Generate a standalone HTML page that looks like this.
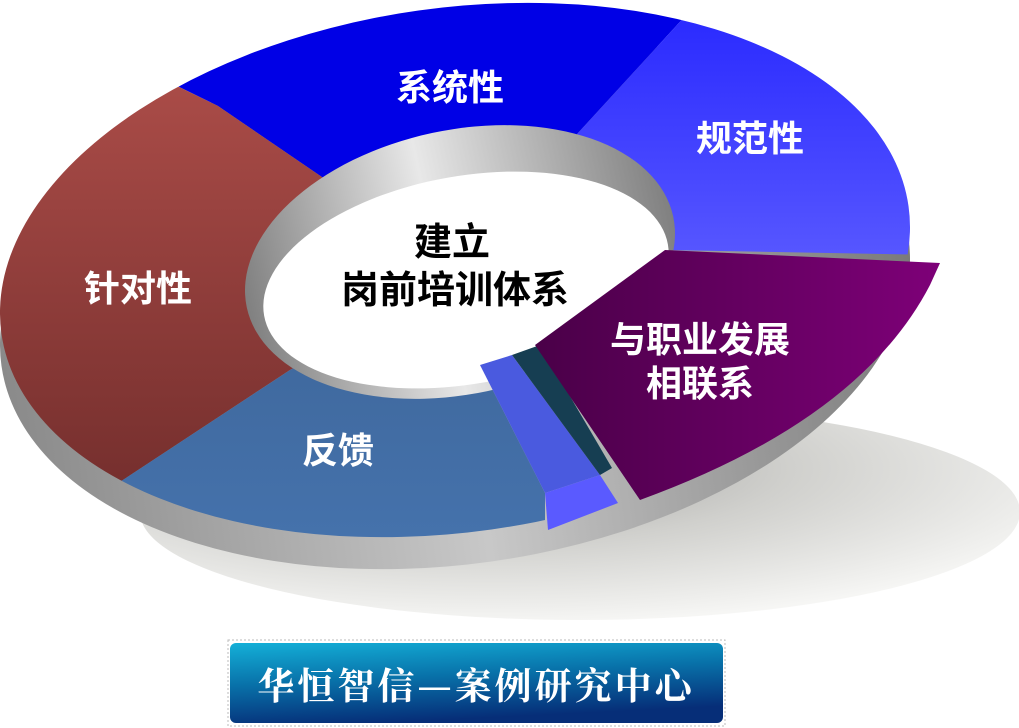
<!DOCTYPE html>
<html><head><meta charset="utf-8"><style>
html,body{margin:0;padding:0;background:#fff;width:1019px;height:728px;overflow:hidden}
svg{display:block}
</style></head><body>
<svg width="1019" height="728" viewBox="0 0 1019 728" xmlns="http://www.w3.org/2000/svg">
<defs>
<radialGradient id="sh" cx="0.4" cy="0.3" r="0.75">
<stop offset="0" stop-color="#8a8a88"/><stop offset="0.45" stop-color="#c4c4c0"/><stop offset="1" stop-color="#f8f8f6"/></radialGradient>
<linearGradient id="side" x1="0" x2="1"><stop offset="0" stop-color="#8a8a8a"/><stop offset="0.5" stop-color="#c8c8c8"/><stop offset="1" stop-color="#7a7a7a"/></linearGradient>
<linearGradient id="rim" x1="0" x2="1"><stop offset="0" stop-color="#808080"/><stop offset="0.45" stop-color="#e8e8e8"/><stop offset="1" stop-color="#808080"/></linearGradient>
<linearGradient id="red" x1="0" y1="0" x2="0" y2="1"><stop offset="0" stop-color="#bb5550"/><stop offset="1" stop-color="#5a2020"/></linearGradient>
<linearGradient id="fb" x1="0" y1="0" x2="0" y2="1"><stop offset="0" stop-color="#3d6598"/><stop offset="1" stop-color="#4a7ab8"/></linearGradient>
<linearGradient id="nm" x1="0" y1="0" x2="0" y2="1"><stop offset="0" stop-color="#1515ff"/><stop offset="1" stop-color="#5a5aff"/></linearGradient>
<linearGradient id="pu" x1="0" y1="0" x2="1" y2="0"><stop offset="0" stop-color="#4a0048"/><stop offset="1" stop-color="#7e0078"/></linearGradient>
<linearGradient id="bn" x1="0" y1="0" x2="0.3" y2="1"><stop offset="0" stop-color="#14b0d8"/><stop offset="0.5" stop-color="#0870a8"/><stop offset="1" stop-color="#062e78"/></linearGradient>
<clipPath id="outer"><ellipse cx="455" cy="270" rx="458" ry="262" transform="rotate(-8 455 270)"/></clipPath>
</defs>
<ellipse cx="580" cy="512" rx="440" ry="108" fill="url(#sh)" opacity="0.8"/>
<ellipse cx="455" cy="302" rx="458" ry="262" transform="rotate(-8 455 302)" fill="url(#side)"/>
<g clip-path="url(#outer)">
<polygon points="465,275 338,188 218,106 -100,-50 -100,-100 760,-100 700,0 578,133" fill="#0000e6"/>
<polygon points="465,275 578,133 700,0 760,-100 1100,-100 1100,258 665,250" fill="url(#nm)"/>
<polygon points="465,275 338,188 218,106 -100,-50 -100,700 100,495 290,370" fill="url(#red)"/>
<polygon points="465,275 290,370 100,495 100,700 545,700 545,493 480,365" fill="url(#fb)"/>
</g>
<ellipse cx="460" cy="262" rx="218" ry="132" transform="rotate(-12 460 262)" fill="url(#rim)"/>
<ellipse cx="466" cy="280" rx="205" ry="104" transform="rotate(-10 466 280)" fill="#fff"/>
<polygon points="480,365 512,355 600,475 545,493" fill="#4a5adf"/>
<polygon points="545,493 600,475 618,503 548,530" fill="#5a5aff"/>
<polygon points="512,355 540,345 612,468 600,475" fill="#163e52"/>
<path d="M535,345 L665,250 L940,263 L930,285 Q860,420 640,500 Z" fill="url(#pu)"/>
<g font-family="'Liberation Sans','Noto Sans CJK SC',sans-serif" font-weight="bold" font-size="36" fill="#fff" text-anchor="middle">
<text x="450" y="100">系统性</text>
<text x="750" y="151">规范性</text>
<text x="138" y="301">针对性</text>
<text x="338" y="463">反馈</text>
<text x="700" y="352">与职业发展</text>
<text x="700" y="396">相联系</text>
</g>
<g font-family="'Liberation Sans','Noto Sans CJK SC',sans-serif" font-weight="bold" font-size="38" fill="#000" text-anchor="middle">
<text x="452" y="255">建立</text>
<text x="455" y="303">岗前培训体系</text>
</g>
<rect x="228" y="640" width="497" height="86" fill="none" stroke="#bbb" stroke-dasharray="2,2"/>
<rect x="230" y="643" width="493" height="80" rx="6" fill="url(#bn)"/>
<text x="476" y="699" text-anchor="middle" font-family="'Noto Serif CJK SC','Liberation Serif',serif" font-weight="bold" font-size="37" fill="#fff" letter-spacing="3">华恒智信—案例研究中心</text>
</svg>
</body></html>
